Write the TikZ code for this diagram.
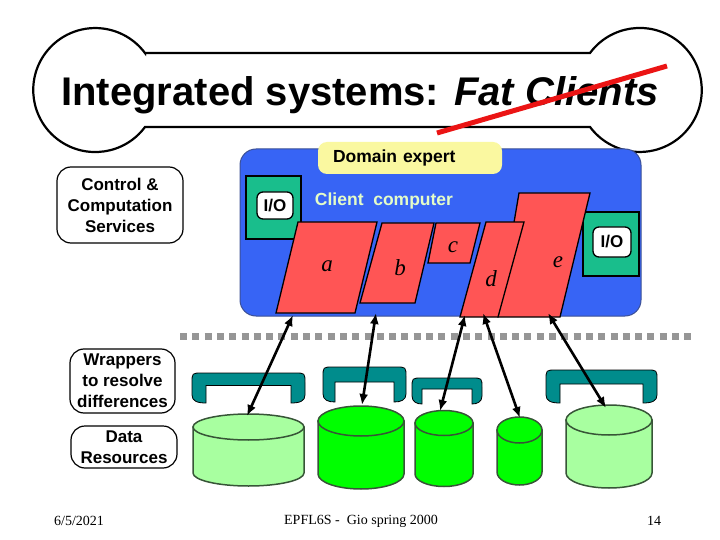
\documentclass[tikz,border=0pt]{standalone}
\usepackage{fontspec}
\setmainfont{Liberation Sans}
\newfontfamily\timesf{Liberation Serif}
\usetikzlibrary{arrows.meta}
\definecolor{bluebg}{RGB}{55,100,245}
\definecolor{blueline}{RGB}{60,80,150}
\definecolor{domyellow}{RGB}{250,248,160}
\definecolor{iogreen}{RGB}{25,190,140}
\definecolor{clienttxt}{RGB}{228,252,200}
\definecolor{redbox}{RGB}{255,85,85}
\definecolor{wrapteal}{RGB}{0,140,140}
\definecolor{cyllight}{RGB}{168,255,160}
\definecolor{cylbright}{RGB}{0,255,0}
\definecolor{cyledge}{RGB}{55,85,55}
\definecolor{dotgray}{RGB}{150,150,150}
\definecolor{strike}{RGB}{235,20,20}
\tikzset{
  bone/.style={draw=black,line width=2.2pt,fill=white},
  sidebox/.style={draw=black,line width=1.2pt,fill=white,rounded corners=14pt,align=center,inner sep=0pt,
    font=\fontsize{17}{21}\selectfont\bfseries},
  iobox/.style={draw=black,line width=1.2pt,fill=iogreen,inner sep=0pt},
  iolabel/.style={draw=black,line width=1.3pt,fill=white,rounded corners=6pt,inner sep=0pt,
    font=\fontsize{17}{20}\selectfont\bfseries},
  redpar/.style={draw=black,line width=1.3pt,fill=redbox},
  parlabel/.style={font=\timesf\itshape\fontsize{23}{26}\selectfont},
  wrapshape/.style={draw=black,line width=0.8pt,fill=wrapteal},
  cylline/.style={draw=cyledge,line width=1.5pt},
  biarrow/.style={line width=2.6pt,{Latex[length=11pt,width=9pt]}-{Latex[length=11pt,width=9pt]}},
  footer/.style={font=\timesf\fontsize{14}{16}\selectfont}
}
\newcommand\wrapper[6]{% xl xr ytop yinner ybot leg
  \filldraw[wrapshape] (#1,#5-8) -- (#1,#3+10) .. controls (#1,#3) .. (#1+10,#3) -- (#2-10,#3)
    .. controls (#2,#3) .. (#2,#3+10) -- (#2,#5-8) .. controls (#2,#5-2) and (#2-5,#5) .. (#2-#6,#5)
    -- (#2-#6,#4) -- (#1+#6,#4) -- (#1+#6,#5) .. controls (#1+5,#5) and (#1,#5-2) .. (#1,#5-8) -- cycle;}
\newcommand\cyl[6]{% xl xr ytopc ybotc ry fill
  \filldraw[cylline,fill=#6] (#1,#3) -- (#1,#4) arc[start angle=180,end angle=0,x radius={(#2-#1)/2},y radius=#5]
    -- (#2,#3) -- cycle;
  \filldraw[cylline,fill=#6] ({(#1+#2)/2},#3) ellipse[x radius={(#2-#1)/2},y radius=#5];}
\begin{document}
\begin{tikzpicture}[x=1pt,y=-1pt]
\useasboundingbox (0,0) rectangle (720,540);
\fill[white] (0,0) rectangle (720,540);

% title bone
\draw[bone] (145,53) -- (590,53) arc[start angle=-143.4,end angle=143.4,radius=62]
  -- (145,127) arc[start angle=36.6,end angle=323.4,radius=62] -- cycle;
\node[font=\fontsize{40}{48}\selectfont\bfseries] (title) at (360,95)
  {Integrated systems: \textit{Fat Clients}};
\coordinate (s1) at (437,133);
\coordinate (s2) at (667,66);
\draw[strike,line width=5pt] (s1) -- (s2);

% client computer
\fill[bluebg,draw=blueline,line width=1pt,rounded corners=16pt] (240,149) rectangle (641,316);
\node[fill=domyellow,rounded corners=9pt,minimum height=32pt,text width=154pt,inner xsep=15pt,inner ysep=0pt,
  align=left,font=\fontsize{17.5}{20}\selectfont\bfseries] (domain) at (410,158) {Domain expert};
\node[iobox,minimum width=55pt,minimum height=63pt] (iol) at (273.5,207.5) {};
\node[iolabel,minimum width=36pt,minimum height=27pt] (iolt) at (275,205.5) {I/O};
\node[iobox,minimum width=56pt,minimum height=64pt] (ior) at (611,244) {};
\node[iolabel,minimum width=38pt,minimum height=30pt] (iort) at (612,242) {I/O};
\node[text=clienttxt,font=\fontsize{17.5}{20}\selectfont\bfseries] (client) at (384,201) {Client\ \ computer};

\filldraw[redpar] (298,222) -- (377,222) -- (355,313) -- (276,313) -- cycle;
\filldraw[redpar] (382,223) -- (434,223) -- (415,303) -- (360,303) -- cycle;
\filldraw[redpar] (436,223) -- (480,223) -- (470,263) -- (428,263) -- cycle;
\filldraw[redpar] (519,193) -- (590,193) -- (560,317) -- (498,317) -- cycle;
\filldraw[redpar] (486,222) -- (524,222) -- (498,317) -- (460,317) -- cycle;
\node[parlabel] (la) at (327,266) {a};
\node[parlabel] (lb) at (400,268) {b};
\node[parlabel] (lc) at (453,247) {c};
\node[parlabel] (ld) at (491,279) {d};
\node[parlabel] (le) at (558,262) {e};

% left labels
\node[sidebox,minimum width=126pt,minimum height=76pt] (ctrl) at (120,205) {Control \&\\Computation\\Services};
\node[sidebox,minimum width=105pt,minimum height=64pt] (wrap) at (122.5,381) {Wrappers\\to resolve\\differences};
\node[sidebox,minimum width=106pt,minimum height=42pt] (data) at (124,447) {Data\\Resources};

% dotted separator
\coordinate (dl) at (180,336.5);
\coordinate (dr) at (692,336.5);
\draw[dotgray,line width=7pt,dash pattern=on 7pt off 5.3pt] (dl) -- (dr);

% wrappers
\wrapper{192}{305}{373}{385.5}{403}{14}
\wrapper{323}{406}{367}{382}{402}{12}
\wrapper{412}{482}{378}{389}{404}{10}
\wrapper{546}{657}{370}{384}{403}{14}

% cylinders
\cyl{193}{304}{427}{473}{13}{cyllight}
\cyl{318}{404}{421}{474}{15}{cylbright}
\cyl{415}{473}{423}{474}{12.5}{cylbright}
\cyl{497}{542}{430}{472}{13}{cylbright}
\cyl{566}{652}{420}{473}{15}{cyllight}

% arrows
\coordinate (a1t) at (293,315); \coordinate (a1b) at (247,416);
\coordinate (a2t) at (376,313); \coordinate (a2b) at (362,405);
\coordinate (a3t) at (465,315); \coordinate (a3b) at (440,411);
\coordinate (a4t) at (483,313); \coordinate (a4b) at (520,418);
\coordinate (a5t) at (548,313); \coordinate (a5b) at (606,408);
\draw[biarrow] (a1t) -- (a1b);
\draw[biarrow] (a2t) -- (a2b);
\draw[biarrow] (a3t) -- (a3b);
\draw[biarrow] (a4t) -- (a4b);
\draw[biarrow] (a5t) -- (a5b);

% footer
\node[footer] (date) at (79,521) {6/5/2021};
\node[footer] (course) at (361,521) {EPFL6S -\ \ Gio spring 2000};
\node[footer] (page) at (654,521) {14};
\end{tikzpicture}
\end{document}
